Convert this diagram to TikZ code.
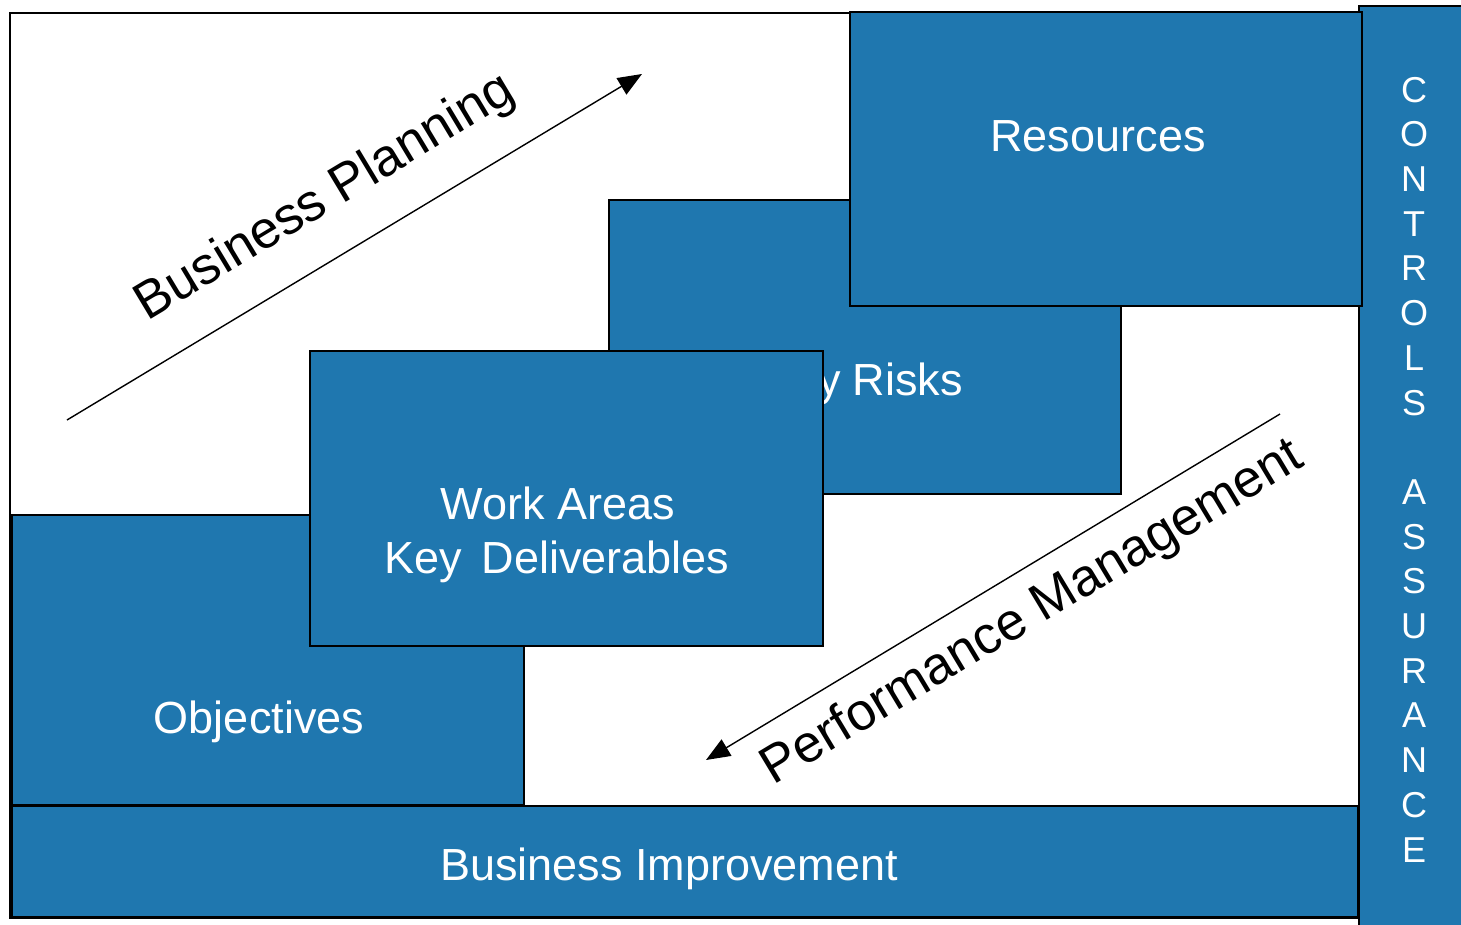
\documentclass[tikz,border=0pt]{standalone}
\usepackage{fontspec}
\setmainfont{Liberation Sans}
\usetikzlibrary{arrows.meta}
\definecolor{panel}{HTML}{1F77AF}

\tikzset{
  block/.style={draw=black, line width=1.5pt, fill=panel, inner sep=0pt},
  blocktext/.style={text=white, font=\fontsize{45}{54}\selectfont, anchor=base, inner sep=0pt},
  flowtext/.style={font=\fontsize{52.5}{60}\selectfont, anchor=base, rotate=31, inner sep=0pt},
  flow/.style={-{Triangle[length=24pt,width=19pt]}, line width=1.4pt},
}

\begin{document}
\begin{tikzpicture}[x=1pt, y=-1pt]
  \useasboundingbox (0,0) rectangle (1461,925);

  % frame and side bar
  \node[draw=black, line width=1.5pt, inner sep=0pt, minimum width=1350pt, minimum height=905pt] (frame) at (685,465.5) {};
  \node[block, minimum width=111pt, minimum height=929pt] (ctrl) at (1414.5,470.5) {};
  \node[text=white, font=\fontsize{36}{44.7}\selectfont, align=center, inner sep=0pt] (ctrltext) at (1414,469.5)
    {C\\O\\N\\T\\R\\O\\L\\S\\[44.7pt]A\\S\\S\\U\\R\\A\\N\\C\\E};

  % bottom strip
  \node[block, minimum width=1346pt, minimum height=111pt] (improve) at (685,861.5) {};

  % staircase of blocks
  \node[block, minimum width=512pt, minimum height=290pt] (obj) at (268,660) {};
  \node[blocktext] (objtext) at (259,733) {Objectives};

  \node[block, minimum width=512pt, minimum height=294pt] (risks) at (865,347) {};
  \node[blocktext] (riskstext) at (863,395) {Key Risks};

  \node[block, minimum width=512pt, minimum height=294pt] (res) at (1106,159) {};
  \node[blocktext] (restext) at (1098,152) {Resources};

  \node[block, minimum width=513pt, minimum height=295pt] (work) at (566.5,498.5) {};
  \node[blocktext] (worktext) at (558,519) {Work Areas};
  \node[blocktext] (keytext) at (557,573) {Key \hspace{7pt}Deliverables};

  \node[blocktext] (improvetext) at (669,880) {Business Improvement};

  % diagonal flows
  \coordinate (bpa) at (67,420);
  \coordinate (bpb) at (642,74);
  \draw[flow] (bpa) -- (bpb);
  \node[flowtext] (bptext) at (333,210) {Business Planning};

  \coordinate (pma) at (1280,414);
  \coordinate (pmb) at (706,760);
  \draw[flow] (pma) -- (pmb);
  \node[flowtext] (pmtext) at (1040,625) {Performance Management};
\end{tikzpicture}
\end{document}
